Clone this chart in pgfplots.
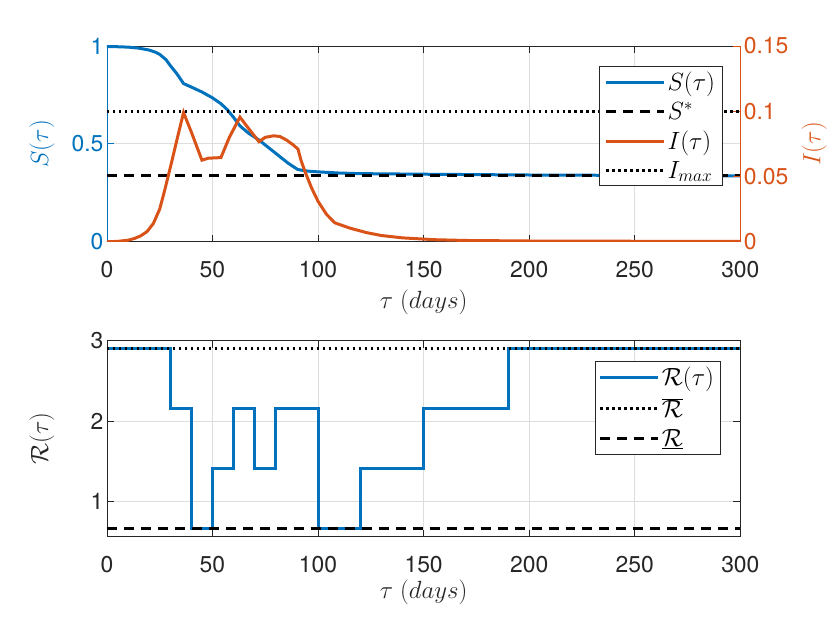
\RequirePackage{fix-cm}
\documentclass[border=0pt]{standalone}
\usepackage{fontspec}
\setmainfont{TeX Gyre Heros}
\usepackage{pgfplots}
\pgfplotsset{compat=1.18}
\definecolor{mblue}{rgb}{0,0.447,0.741}
\definecolor{morange}{rgb}{0.85,0.325,0.098}
\definecolor{axgray}{rgb}{0.15,0.15,0.15}
\pgfplotsset{
  common/.style={
    width=634bp, height=196bp, scale only axis,
    xmin=0, xmax=300, xtick={0,50,...,300},
    tick align=inside,
    major tick length=7bp,
    /pgf/number format/assume math mode=true,
    axis line style={draw=axgray, line width=0.8bp},
    tick style={line width=0.8bp, draw=axgray},
    ticklabel style={text=axgray, font=\fontsize{23}{26}\selectfont},
    xticklabel style={yshift=-16bp},
    label style={font=\fontsize{25}{28}\selectfont},
    major grid style={line width=0.8bp, draw=black!13},
    legend cell align=left,
    legend style={draw=axgray, line width=0.8bp, fill=white, font=\fontsize{25}{28}\selectfont,
      inner xsep=5bp, inner ysep=4bp, row sep=6bp},
    legend image code/.code={\draw[##1] (0bp,0bp) -- (58bp,0bp);},
  },
  dsh/.style={black, line width=3bp, dash pattern=on 10bp off 7bp},
  dtt/.style={black, line width=3bp, dash pattern=on 2.5bp off 3.5bp},
}
\begin{document}
\begin{tikzpicture}[font=\fontsize{23}{26}\selectfont]
\path (0bp,0bp) rectangle (830bp,623bp);
% ---------------- top: left axis ----------------
\begin{axis}[common,
  at={(107bp,381bp)}, anchor=south west,
  ymin=0, ymax=1, ytick={0,0.5,1}, yticklabels={0,0.5,1},
  xtick pos=both, ytick pos=left,
  separate axis lines,
  y axis line style={draw=mblue},
  y tick style={draw=mblue},
  yticklabel style={text=mblue},
  xmajorgrids, ymajorgrids,
  xlabel={$\tau\ (days)$},
  xlabel style={at={(axis description cs:0.5,-0.311)}, anchor=center, text=axgray},
  ylabel={$S(\tau)$},
  ylabel style={at={(axis description cs:-0.1025,0.5)}, anchor=center, text=mblue},
]
\addplot[mblue, line width=3bp] coordinates {
(0,0.997)(5,0.996)(10,0.994)(15,0.989)(20,0.979)(23,0.968)(25,0.957)(28,0.93)(30,0.90)(33,0.86)(36.3,0.808)
(40,0.79)(45,0.765)(50,0.735)(54,0.705)(57,0.675)(60,0.635)(63,0.592)(67,0.555)(72,0.52)(77,0.477)(82,0.434)
(86,0.40)(90.4,0.369)(95,0.361)(100,0.357)(110,0.351)(120,0.348)(150,0.345)(200,0.341)(250,0.339)(300,0.336)};
\addplot[dsh] coordinates {(0,0.34)(300,0.34)};
\end{axis}
% ---------------- top: right axis ----------------
\begin{axis}[common,
  at={(107bp,381bp)}, anchor=south west,
  axis x line=none, axis y line*=right,
  ymin=0, ymax=0.15, ytick={0,0.05,0.1,0.15}, yticklabels={0,0.05,0.1,0.15},
  y axis line style={draw=morange},
  y tick style={draw=morange},
  yticklabel style={text=morange},
  ylabel={$I(\tau)$},
  ylabel style={at={(axis description cs:1.1167,0.5)}, anchor=center, text=morange},
  legend style={at={(axis description cs:1,1)}, anchor=north east, xshift=-18bp, yshift=-20bp},
]
\addlegendimage{mblue, line width=3bp}
\addlegendentry{$S(\tau)$}
\addlegendimage{dsh}
\addlegendentry{$S^{*}$}
\addplot[morange, line width=3bp] coordinates {
(0,0)(5,0.0003)(10,0.0012)(13,0.0025)(16,0.0045)(19,0.0078)(22,0.014)(25,0.025)(27.3,0.039)(30.5,0.060)
(33,0.077)(36.3,0.099)(40,0.084)(45,0.0625)(48,0.064)(54,0.0645)(58,0.08)(63,0.0955)(67,0.087)(72,0.0767)
(75,0.0800)(79,0.0812)(82,0.0806)(85,0.078)(88,0.0745)(90.5,0.071)(92,0.062)(94,0.053)(97,0.041)(100,0.031)
(104,0.021)(108,0.0145)(115,0.0105)(123,0.007)(130,0.0048)(140,0.003)(155,0.0016)(170,0.001)(200,0.0006)
(250,0.0004)(300,0.0003)};
\addlegendentry{$I(\tau)$}
\addplot[dtt] coordinates {(0,0.1)(300,0.1)};
\addlegendentry{$I_{max}$}
\end{axis}
% ---------------- bottom ----------------
\begin{axis}[common,
  at={(107bp,86bp)}, anchor=south west,
  ymin=0.57, ymax=3, ytick={1,2,3}, yticklabels={1,2,3},
  xtick pos=both, ytick pos=both,
  xmajorgrids, ymajorgrids,
  xlabel={$\tau\ (days)$},
  xlabel style={at={(axis description cs:0.5,-0.286)}, anchor=center, text=axgray},
  ylabel={$\mathcal{R}(\tau)$},
  ylabel style={at={(axis description cs:-0.1025,0.5)}, anchor=center, text=axgray},
  legend style={at={(axis description cs:1,1)}, anchor=north east, xshift=-20bp, yshift=-20bp,
    row sep=7bp, inner xsep=4bp},
]
\addplot[mblue, line width=3bp, const plot] coordinates {
(0,2.9)(30,2.16)(40,0.67)(50,1.41)(60,2.16)(70,1.41)(80,2.16)(100,0.67)(120,1.41)(150,2.16)(190,2.9)(300,2.9)};
\addlegendentry{$\mathcal{R}(\tau)$}
\addplot[dtt] coordinates {(0,2.9)(300,2.9)};
\addlegendentry{$\overline{\mathcal{R}}$}
\addplot[dsh] coordinates {(0,0.67)(300,0.67)};
\addlegendentry{$\underline{\mathcal{R}}$}
\end{axis}
\end{tikzpicture}
\end{document}
